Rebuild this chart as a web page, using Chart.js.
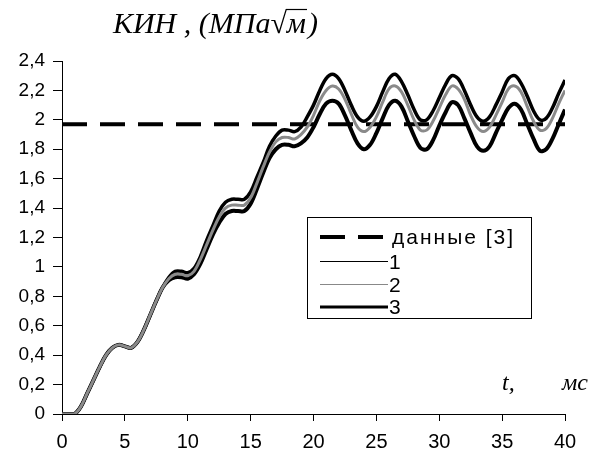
<!DOCTYPE html>
<html>
<head>
<meta charset="utf-8">
<script src="https://cdn.jsdelivr.net/npm/chart.js@4/dist/chart.umd.min.js"></script>
<style>
  html, body { margin: 0; padding: 0; background: #fff; }
  #wrap { width: 607px; height: 459px; position: relative; }
</style>
</head>
<body>
<div id="wrap"><canvas id="kinChart"></canvas></div>
<script>
const times = [0, 0.5, 1, 1.5, 2, 2.5, 3, 3.5, 4, 4.5, 5, 5.5, 6, 6.5, 7, 7.5, 8, 8.5, 9, 9.5,
  10, 10.5, 11, 11.5, 12, 12.5, 13, 13.5, 14, 14.5, 15, 15.5, 16, 16.5, 17, 17.5, 18, 18.5, 19, 19.5,
  20, 20.5, 21, 21.5, 22, 22.5, 23, 23.5, 24, 24.5, 25, 25.5, 26, 26.5, 27, 27.5, 28, 28.5, 29, 29.5,
  30, 30.5, 31, 31.5, 32, 32.5, 33, 33.5, 34, 34.5, 35, 35.5, 36, 36.5, 37, 37.5, 38, 38.5, 39, 39.5, 40];

const series1 = [0, 0, 0, 0.05, 0.14, 0.23, 0.32, 0.40, 0.45, 0.47, 0.46, 0.45, 0.49, 0.57, 0.67, 0.77, 0.86, 0.93, 0.97, 0.97,
  0.96, 0.99, 1.07, 1.18, 1.28, 1.38, 1.44, 1.46, 1.46, 1.46, 1.51, 1.61, 1.71, 1.82, 1.89, 1.93, 1.93, 1.92, 1.95, 2.02,
  2.10, 2.20, 2.28, 2.31, 2.28, 2.20, 2.10, 2.02, 1.99, 2.02, 2.09, 2.19, 2.28, 2.31, 2.26, 2.17, 2.07, 2.00, 2.00, 2.06,
  2.15, 2.24, 2.30, 2.28, 2.20, 2.10, 2.02, 1.99, 2.02, 2.10, 2.19, 2.28, 2.30, 2.25, 2.16, 2.06, 2.00, 2.01, 2.08, 2.18, 2.27];

const series2 = [0, 0, 0, 0.05, 0.14, 0.23, 0.32, 0.40, 0.45, 0.47, 0.46, 0.45, 0.49, 0.57, 0.67, 0.77, 0.86, 0.92, 0.95, 0.95,
  0.94, 0.97, 1.05, 1.15, 1.25, 1.34, 1.40, 1.42, 1.42, 1.42, 1.47, 1.57, 1.68, 1.78, 1.85, 1.88, 1.88, 1.87, 1.90, 1.95,
  2.03, 2.13, 2.20, 2.23, 2.21, 2.14, 2.04, 1.95, 1.92, 1.95, 2.02, 2.12, 2.21, 2.23, 2.19, 2.10, 2.00, 1.93, 1.93, 1.99,
  2.08, 2.17, 2.23, 2.21, 2.14, 2.03, 1.95, 1.92, 1.95, 2.03, 2.12, 2.21, 2.23, 2.19, 2.09, 1.99, 1.93, 1.94, 2.01, 2.11, 2.20];

const series3 = [0, 0, 0, 0.05, 0.14, 0.23, 0.32, 0.40, 0.45, 0.47, 0.46, 0.45, 0.49, 0.57, 0.67, 0.77, 0.86, 0.91, 0.93, 0.93,
  0.92, 0.95, 1.02, 1.12, 1.22, 1.30, 1.36, 1.38, 1.38, 1.38, 1.43, 1.53, 1.64, 1.74, 1.80, 1.83, 1.83, 1.82, 1.84, 1.88,
  1.95, 2.04, 2.11, 2.13, 2.11, 2.03, 1.93, 1.84, 1.80, 1.83, 1.91, 2.01, 2.10, 2.13, 2.09, 1.99, 1.89, 1.81, 1.80, 1.86,
  1.96, 2.05, 2.12, 2.10, 2.01, 1.91, 1.82, 1.79, 1.82, 1.91, 2.00, 2.08, 2.11, 2.07, 1.97, 1.87, 1.79, 1.80, 1.87, 1.97, 2.07];

const refTimes = [0, 40];
const refValues = [1.97, 1.97];

const yTicks = [0, 0.2, 0.4, 0.6, 0.8, 1, 1.2, 1.4, 1.6, 1.8, 2, 2.2, 2.4];
const xTicks = [0, 5, 10, 15, 20, 25, 30, 35, 40];

const legendLabels = ["данные [3]", "1", "2", "3"];

const toPoints = (xs, ys) => xs.map((x, i) => ({ x: x, y: ys[i] }));

const sansFont = "'Liberation Sans', Arial, sans-serif";
const serifFont = "'Liberation Serif', 'Times New Roman', serif";

// title, axis label and the boxed legend
const extrasPlugin = {
  id: "extras",
  afterDraw(chart) {
    const ctx = chart.ctx;
    ctx.save();
    ctx.fillStyle = "#000";
    ctx.strokeStyle = "#000";
    ctx.textBaseline = "alphabetic";

    // title КИН, (МПа√м)
    ctx.font = "italic 30px " + serifFont;
    let x = 113;
    const by = 33;
    const part1 = "КИН , (МПа";
    ctx.fillText(part1, x, by);
    x += ctx.measureText(part1).width;
    ctx.font = "30px " + serifFont;
    ctx.fillText("√", x, by);
    x += ctx.measureText("√").width;
    ctx.font = "italic 30px " + serifFont;
    const mw = ctx.measureText("м").width;
    ctx.lineWidth = 1.2;
    ctx.beginPath();
    ctx.moveTo(x - 1, by - 23.5);
    ctx.lineTo(x + mw + 1, by - 23.5);
    ctx.stroke();
    ctx.fillText("м", x, by);
    x += mw + 2;
    ctx.fillText(")", x, by);

    // axis label
    ctx.font = "italic 24px " + serifFont;
    ctx.fillText("t,", 502, 390);
    ctx.fillText("мс", 562, 390);

    // legend box
    const lx = 307, ly = 217, lw = 224, lh = 101;
    ctx.fillStyle = "#fff";
    ctx.fillRect(lx, ly, lw, lh);
    ctx.lineWidth = 1;
    ctx.strokeStyle = "#000";
    ctx.strokeRect(lx + 0.5, ly + 0.5, lw, lh);

    const rows = [
      { y: 237, color: "#000", width: 4, dash: [25, 13] },
      { y: 261.5, color: "#000", width: 1, dash: [] },
      { y: 284.5, color: "#888", width: 1, dash: [] },
      { y: 307, color: "#000", width: 3, dash: [] }
    ];
    ctx.font = "21px " + sansFont;
    ctx.textBaseline = "middle";
    rows.forEach((r, i) => {
      ctx.beginPath();
      ctx.setLineDash(r.dash);
      ctx.lineWidth = r.width;
      ctx.strokeStyle = r.color;
      ctx.moveTo(320, r.y);
      ctx.lineTo(i === 0 ? 384 : 388, r.y);
      ctx.stroke();
      ctx.setLineDash([]);
      ctx.fillStyle = "#000";
      ctx.letterSpacing = i === 0 ? "2px" : "0px";
      ctx.fillText(legendLabels[i], i === 0 ? 392 : 389, Math.round(r.y) + 1);
    });
    ctx.restore();
  }
};

new Chart(document.getElementById("kinChart"), {
  type: "line",
  data: {
    datasets: [
      {
        label: legendLabels[2],
        data: toPoints(times, series2),
        borderColor: "#8a8a8a",
        borderWidth: 3,
        order: 1
      },
      {
        label: legendLabels[1],
        data: toPoints(times, series1),
        borderColor: "#000",
        borderWidth: 3.5,
        order: 2
      },
      {
        label: legendLabels[3],
        data: toPoints(times, series3),
        borderColor: "#000",
        borderWidth: 4,
        order: 3
      },
      {
        label: legendLabels[0],
        data: toPoints(refTimes, refValues),
        borderColor: "#000",
        borderWidth: 4,
        borderDash: [25, 13],
        tension: 0,
        order: 4
      }
    ]
  },
  options: {
    responsive: true,
    maintainAspectRatio: false,
    animation: false,
    layout: { padding: { top: 61, right: 42, left: 0, bottom: 0 } },
    elements: {
      point: { radius: 0 },
      line: { tension: 0.35, borderCapStyle: "butt", fill: false }
    },
    plugins: {
      legend: { display: false },
      tooltip: { enabled: false }
    },
    scales: {
      x: {
        type: "linear",
        min: 0,
        max: 40,
        afterFit(scale) { scale.height = 45; },
        afterBuildTicks(scale) { scale.ticks = xTicks.map((v) => ({ value: v })); },
        grid: { display: true, drawOnChartArea: false, drawTicks: true, tickLength: 7, color: "#000" },
        border: { display: true, color: "#000", width: 1 },
        ticks: {
          color: "#000",
          padding: 9,
          font: { family: sansFont, size: 20 },
          maxRotation: 0,
          callback: (v) => String(v)
        }
      },
      y: {
        min: 0,
        max: 2.4,
        afterFit(scale) { scale.width = 62; },
        afterBuildTicks(scale) { scale.ticks = yTicks.map((v) => ({ value: v })); },
        grid: { display: true, drawOnChartArea: false, drawTicks: true, tickLength: 9, color: "#000" },
        border: { display: true, color: "#000", width: 1 },
        ticks: {
          color: "#000",
          padding: 8,
          font: { family: sansFont, size: 19 },
          callback: (v) => String(Number(v.toFixed(1))).replace(".", ",")
        }
      }
    }
  },
  plugins: [extrasPlugin]
});
</script>
</body>
</html>
